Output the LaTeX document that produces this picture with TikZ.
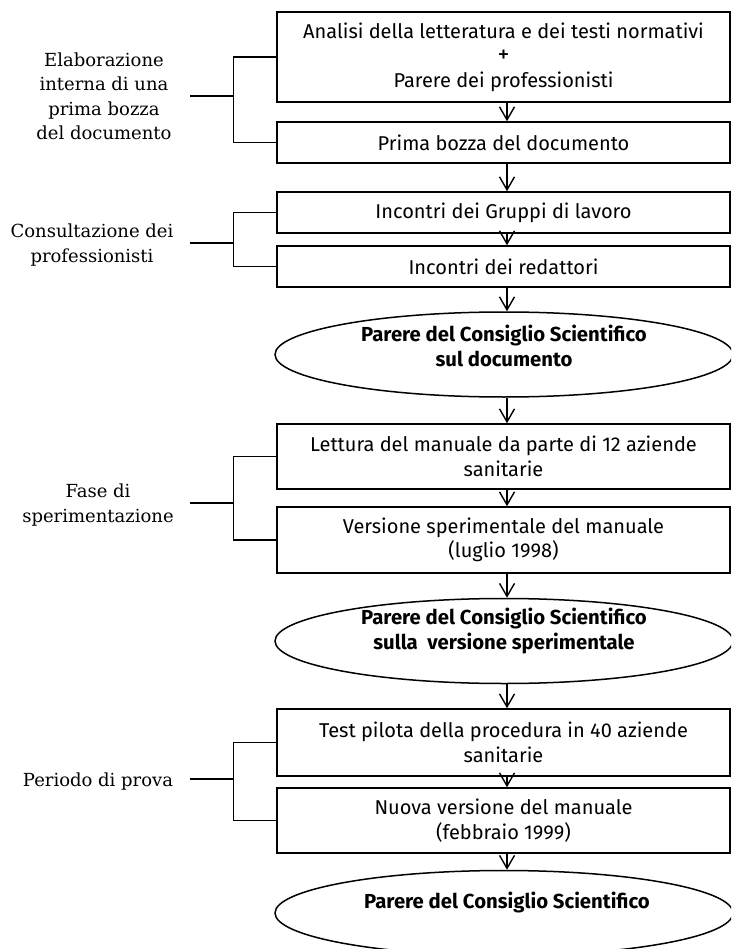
\documentclass[tikz,border=0pt]{standalone}
\usepackage{fontspec}
\newfontfamily\boxfont{Fira Sans}
\newfontfamily\phasefont{DejaVu Serif}
\usetikzlibrary{arrows.meta,shapes.geometric}
\begin{document}
\begin{tikzpicture}[x=1pt,y=-1pt,
  stepbox/.style={draw, line width=1.5pt, minimum width=453pt, inner sep=0pt,
    align=center, font=\boxfont\fontsize{20}{24.5}\selectfont},
  oval/.style={draw, ellipse, line width=1.5pt, minimum width=458pt,
    minimum height=85pt, inner sep=0pt},
  ovaltext/.style={align=center, inner sep=0pt,
    font=\boxfont\bfseries\fontsize{20.3}{25}\selectfont},
  phase/.style={align=center, inner sep=0pt,
    font=\phasefont\fontsize{18}{24.3}\selectfont},
  flow/.style={line width=1.4pt, -{Straight Barb[length=13pt,width=15pt]}},
  link/.style={line width=1.5pt}]
\useasboundingbox (0,0) rectangle (731,949);
\clip (0,0) rectangle (731,949);

% process boxes
\node[stepbox, minimum height=90pt] (b1) at (503.5,57)
  {Analisi della letteratura e dei testi normativi\\{\fontsize{24}{24.5}\selectfont +}\\Parere dei professionisti};
\node[stepbox, minimum height=41pt] (b2) at (503.5,142.5) {Prima bozza del documento};
\node[stepbox, minimum height=41pt] (b3) at (503.5,212.5) {Incontri dei Gruppi di lavoro};
\node[stepbox, minimum height=41pt] (b4) at (503.5,266.5) {Incontri dei redattori};
\node[stepbox, minimum height=65pt] (b5) at (503.5,456.5)
  {Lettura del manuale da parte di 12 aziende\\sanitarie};
\node[stepbox, minimum height=66pt] (b6) at (503.5,540)
  {Versione sperimentale del manuale\\(luglio 1998)};
\node[stepbox, minimum height=67pt] (b7) at (503.5,742.5)
  {Test pilota della procedura in 40 aziende\\sanitarie};
\node[stepbox, minimum height=65pt] (b8) at (503.5,820.5)
  {Nuova versione del manuale\\(febbraio 1999)};

% review ovals
\node[oval] (e1) at (504,354.5) {};
\node[oval] (e2) at (504,641) {};
\node[oval] (e3) at (504,913) {};
\node[ovaltext] (t1) at ([yshift=9pt]e1.center)
  {Parere del Consiglio Scientifico\\sul documento};
\node[ovaltext] (t2) at ([yshift=10pt]e2.center)
  {Parere del Consiglio Scientifico\\sulla\ \ versione sperimentale};
\node[ovaltext, anchor=base] (t3) at ([yshift=5pt,xshift=3pt]e3.center)
  {Parere del Consiglio Scientifico};

% flow arrows
\coordinate (ax) at (507,0);
\foreach \a/\b in {b1/b2,b2/b3,b3/b4,b4/e1,e1/b5,b5/b6,b6/e2,e2/b7,b7/b8,b8/e3}
  \draw[flow] (\a.south -| ax) -- (\b.north -| ax);

% phase labels
\node[phase] (p1) at (104,96.4) {Elaborazione\\interna di una\\prima bozza\\del documento};
\node[phase] (p2) at (92,244.9) {Consultazione dei\\professionisti};
\node[phase] (p3) at (98,504.9) {Fase di\\sperimentazione};
\node[phase, anchor=base] (p4) at (98,786) {Periodo di prova};

% brackets
\draw[link] (b1.west) -- ++(-43,0) coordinate (j1) |- (b2.west);
\draw[link] (b3.west) -- ++(-43,0) coordinate (j2) |- (b4.west);
\draw[link] (b5.west) -- ++(-43,0) coordinate (j3) |- (b6.west);
\draw[link] (b7.west) -- ++(-43,0) coordinate (j4) |- (b8.west);
\coordinate (k1) at (190,96);
\coordinate (k2) at (190,243);
\coordinate (k3) at (190,503);
\coordinate (k4) at (190,779);
\draw[link] (k1) -- (k1 -| j1);
\draw[link] (k2) -- (k2 -| j2);
\draw[link] (k3) -- (k3 -| j3);
\draw[link] (k4) -- (k4 -| j4);
\end{tikzpicture}
\end{document}
